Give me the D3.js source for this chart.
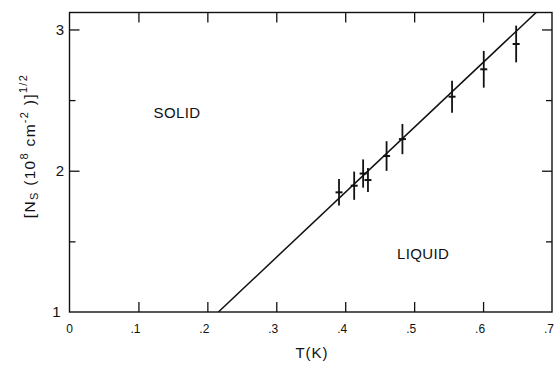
<!DOCTYPE html>
<html>
<head>
<meta charset="utf-8">
<script src="https://cdn.jsdelivr.net/npm/d3@7"></script>
<style>
  html, body { margin: 0; padding: 0; background: #fff; }
  svg { display: block; }
  text { font-family: "Liberation Sans", Arial, sans-serif; fill: #111; }
</style>
</head>
<body>
<svg id="chart" width="554" height="369"></svg>
<script>
// ---- data ----
const temperatureK = [0.391, 0.413, 0.426, 0.433, 0.460, 0.483, 0.555, 0.601, 0.648];
const sqrtDensity  = [1.847, 1.894, 1.980, 1.934, 2.104, 2.224, 2.524, 2.718, 2.897];
const errorSize    = [0.094, 0.100, 0.100, 0.085, 0.105, 0.107, 0.113, 0.130, 0.130];
const fitT = [0.216, 0.677];
const fitN = [1.0, 3.12];
const xTicks = [0, 0.1, 0.2, 0.3, 0.4, 0.5, 0.6, 0.7];
const xTickLabels = ["0", ".1", ".2", ".3", ".4", ".5", ".6", ".7"];
const yMajorTicks = [1, 2, 3];
const yMinorTicks = [1.5, 2.5];
const regionLabels = ["SOLID", "LIQUID"];
const regionT = [0.122, 0.475];
const regionN = [2.37, 1.375];

// ---- layout ----
const svg = d3.select("#chart");
const x = d3.scaleLinear().domain([0, 0.7]).range([69.5, 552]);
const y = d3.scaleLinear().domain([1, 3.12]).range([312, 12.5]);
const [x0, x1] = x.range();
const [y0, y1] = y.range();
const ink = "#111";

// clip
svg.append("defs").append("clipPath").attr("id", "plot")
  .append("rect").attr("x", x0).attr("y", y1).attr("width", x1 - x0).attr("height", y0 - y1);

// frame
svg.append("rect").attr("x", x0).attr("y", y1).attr("width", x1 - x0).attr("height", y0 - y1)
  .attr("fill", "none").attr("stroke", ink).attr("stroke-width", 1.4);

// axes with inward ticks
const inner = xTicks.filter(d => d > 0 && d < 0.7);
svg.append("g").attr("transform", `translate(0,${y0})`)
  .call(d3.axisTop(x).tickValues(inner).tickSize(10).tickFormat(""))
  .call(g => g.select(".domain").remove())
  .call(g => g.selectAll("line").attr("stroke", ink).attr("stroke-width", 1.3));
svg.append("g").attr("transform", `translate(0,${y1})`)
  .call(d3.axisBottom(x).tickValues(inner).tickSize(10).tickFormat(""))
  .call(g => g.select(".domain").remove())
  .call(g => g.selectAll("line").attr("stroke", ink).attr("stroke-width", 1.3));

[[yMajorTicks.filter(d => d > 1), 10], [yMinorTicks, 6]].forEach(([vals, len]) => {
  svg.append("g").attr("transform", `translate(${x0},0)`)
    .call(d3.axisRight(y).tickValues(vals).tickSize(len).tickFormat(""))
    .call(g => g.select(".domain").remove())
    .call(g => g.selectAll("line").attr("stroke", ink).attr("stroke-width", 1.3));
  svg.append("g").attr("transform", `translate(${x1},0)`)
    .call(d3.axisLeft(y).tickValues(vals).tickSize(len).tickFormat(""))
    .call(g => g.select(".domain").remove())
    .call(g => g.selectAll("line").attr("stroke", ink).attr("stroke-width", 1.3));
});

// x tick labels
svg.append("g").selectAll("text").data(xTicks).join("text")
  .attr("x", (d, i) => x(d) - (i === 0 ? 0 : 3))
  .attr("y", 333)
  .attr("text-anchor", "middle")
  .attr("font-size", 12)
  .text((d, i) => xTickLabels[i]);

// y tick labels
svg.append("g").selectAll("text").data(yMajorTicks).join("text")
  .attr("x", d => d === 1 ? 60.5 : 64)
  .attr("y", d => y(d))
  .attr("dy", "0.36em")
  .attr("text-anchor", "end")
  .attr("font-size", 15)
  .text(d => d);

// axis titles
svg.append("text").attr("x", 312).attr("y", 358).attr("text-anchor", "middle")
  .attr("font-size", 15).attr("letter-spacing", 1).text("T(K)");

const yt = svg.append("text")
  .attr("transform", "translate(35,146) rotate(-90)")
  .attr("text-anchor", "middle").attr("font-size", 15.5).attr("letter-spacing", 1.3);
yt.append("tspan").text("[N");
yt.append("tspan").attr("font-size", 11).attr("dy", 3).text("S");
yt.append("tspan").attr("dy", -3).text(" (10");
yt.append("tspan").attr("font-size", 11).attr("dy", -7).text("8");
yt.append("tspan").attr("dy", 7).text(" cm");
yt.append("tspan").attr("font-size", 11).attr("dy", -7).text("-2");
yt.append("tspan").attr("dy", 7).text(" )]");
yt.append("tspan").attr("font-size", 11).attr("dy", -8).text("1/2");

// region labels
svg.append("g").selectAll("text").data(regionLabels).join("text")
  .attr("x", (d, i) => x(regionT[i]))
  .attr("y", (d, i) => y(regionN[i]))
  .attr("font-size", 15)
  .attr("letter-spacing", 0.4)
  .text(d => d);

// fit line
svg.append("line")
  .attr("clip-path", "url(#plot)")
  .attr("x1", x(fitT[0])).attr("y1", y(fitN[0]))
  .attr("x2", x(fitT[1])).attr("y2", y(fitN[1]))
  .attr("stroke", ink).attr("stroke-width", 1.5);

// data points with error bars
const pts = svg.append("g").selectAll("g").data(temperatureK).join("g");
pts.append("line")
  .attr("x1", d => x(d)).attr("x2", d => x(d))
  .attr("y1", (d, i) => y(sqrtDensity[i] - errorSize[i]))
  .attr("y2", (d, i) => y(sqrtDensity[i] + errorSize[i]))
  .attr("stroke", ink).attr("stroke-width", 1.8);
pts.append("line")
  .attr("x1", d => x(d) - 3.5).attr("x2", d => x(d) + 3.5)
  .attr("y1", (d, i) => y(sqrtDensity[i])).attr("y2", (d, i) => y(sqrtDensity[i]))
  .attr("stroke", ink).attr("stroke-width", 2);
</script>
</body>
</html>
